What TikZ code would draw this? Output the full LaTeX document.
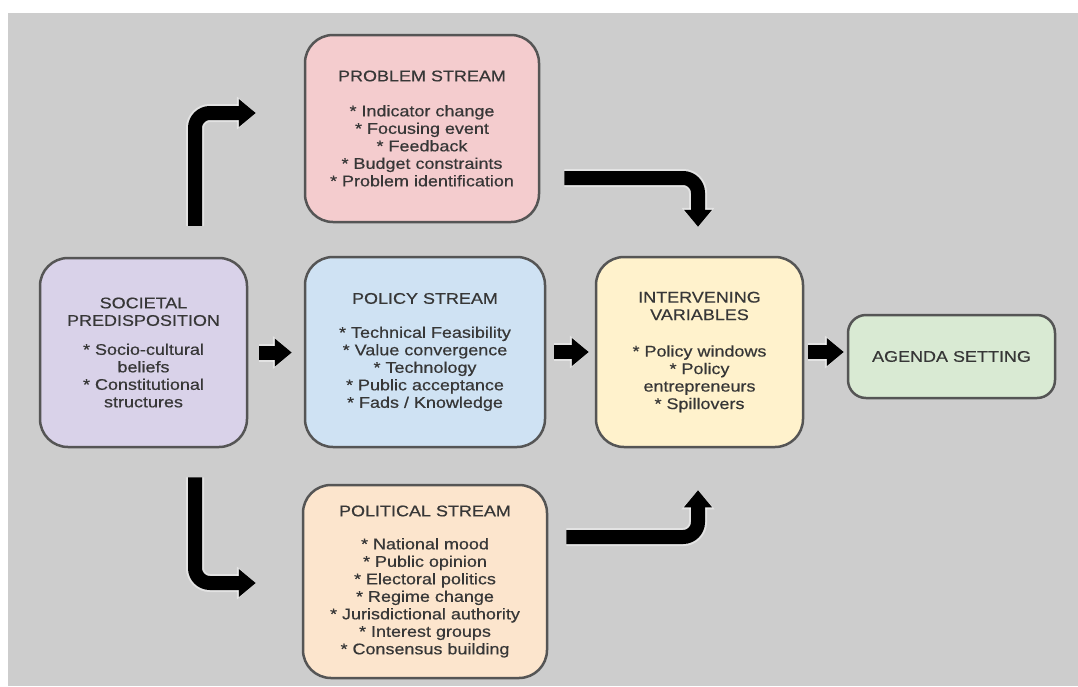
\documentclass[tikz,border=0pt]{standalone}
\usepackage{fontspec}
\setmainfont[FakeStretch=1.16,FakeBold=0.5]{Liberation Sans}
\usetikzlibrary{arrows.meta}
\definecolor{bg}{RGB}{205,205,205}
\definecolor{boxline}{RGB}{85,85,85}
\definecolor{txt}{RGB}{55,55,55}
\definecolor{cprob}{RGB}{244,204,206}
\definecolor{csoc}{RGB}{217,210,233}
\definecolor{cpol}{RGB}{207,226,243}
\definecolor{cint}{RGB}{255,242,204}
\definecolor{cagd}{RGB}{217,234,211}
\definecolor{cpolit}{RGB}{252,229,205}
\tikzset{
  box/.style={draw=boxline, line width=2.5pt, rounded corners=28pt, align=center,
    font=\fontsize{15.5}{17.5}\selectfont, text=txt, inner sep=0pt},
  arr/.style={line width=14pt, draw=black, rounded corners=15pt,
    -{Triangle[length=17pt,width=27pt]},
    preaction={draw=white, opacity=0.45, line width=18pt, -{Triangle[length=19pt,width=32pt]}}}
}
\begin{document}
\begin{tikzpicture}[x=1pt,y=-1pt]
\useasboundingbox (0,0) rectangle (1078,686);
\fill[white] (0,0) rectangle (1078,686);
\fill[bg] (8,13) rectangle (1078,686);

\node[box, fill=csoc, minimum width=207pt, minimum height=189pt] (soc) at (143.5,352.5)
  {SOCIETAL\\PREDISPOSITION\\[11.5pt]* Socio-cultural\\beliefs\\* Constitutional\\structures};
\node[box, fill=cprob, minimum width=234pt, minimum height=187pt] (prob) at (422,128.5)
  {PROBLEM STREAM\\[17.5pt]* Indicator change\\* Focusing event\\* Feedback\\* Budget constraints\\* Problem identification};
\node[box, fill=cpol, minimum width=240pt, minimum height=190pt] (pol) at (425,352)
  {POLICY STREAM\\[16.5pt]* Technical Feasibility\\* Value convergence\\* Technology\\* Public acceptance\\* Fads / Knowledge};
\node[box, fill=cpolit, minimum width=244pt, minimum height=193pt] (polit) at (425,581.5)
  {POLITICAL STREAM\\[15.5pt]* National mood\\* Public opinion\\* Electoral politics\\* Regime change\\* Jurisdictional authority\\* Interest groups\\* Consensus building};
\node[box, fill=cint, minimum width=207pt, minimum height=190pt] (int) at (699.5,352)
  {INTERVENING\\VARIABLES\\[19pt]* Policy windows\\* Policy\\entrepreneurs\\* Spillovers};
\node[box, fill=cagd, rounded corners=18pt, minimum width=207pt, minimum height=83pt] (agd) at (951.5,356.5)
  {AGENDA SETTING};

\draw[arr, shorten <=11pt, shorten >=12pt] (soc.east) -- (soc.east -| pol.west);
\draw[arr, shorten <=8pt, shorten >=6pt] (pol.east) -- (pol.east -| int.west);
\draw[arr, shorten <=4pt, shorten >=3pt] (int.east) -- (int.east -| agd.west);

\draw[arr] ([xshift=51.5pt,yshift=31pt]soc.north) |- ([xshift=-48pt,yshift=15.5pt]prob.west);
\draw[arr] ([xshift=51.5pt,yshift=-29pt]soc.south) |- ([xshift=-46pt,yshift=-1.5pt]polit.west);
\draw[arr] ([xshift=24pt,yshift=-49.5pt]prob.east) -| ([xshift=-1.5pt,yshift=29pt]int.north);
\draw[arr] ([xshift=18pt,yshift=44.5pt]polit.east) -| ([xshift=-1.5pt,yshift=-42pt]int.south);
\end{tikzpicture}
\end{document}
